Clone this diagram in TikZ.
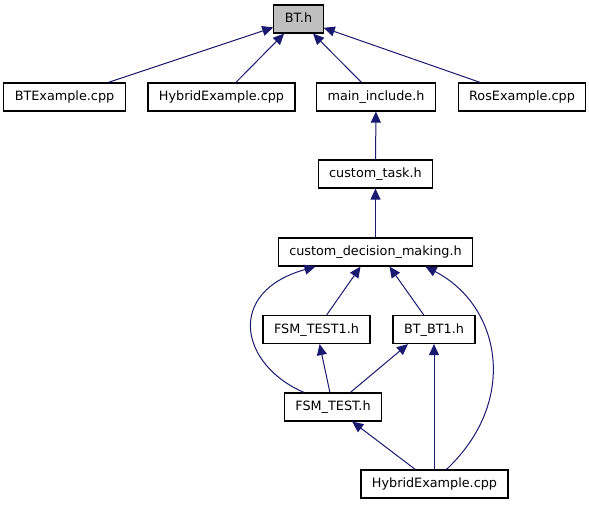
\documentclass[tikz,border=0pt]{standalone}
\usepackage{fontspec}
\setmainfont{DejaVu Sans}
\usepackage{xcolor}
\usetikzlibrary{arrows.meta}
\definecolor{edgeblue}{HTML}{191970}
\definecolor{rootgray}{HTML}{BFBFBF}

\begin{document}
\begin{tikzpicture}[x=1pt, y=-1pt,
  file/.style={draw=black, line width=1.2pt, fill=white, minimum height=28pt,
    inner xsep=11pt, inner ysep=0pt, text height=9.6pt, text depth=2.6pt,
    font=\fontsize{12.8}{14}\selectfont},
  dep/.style={edgeblue, line width=1pt, -{Triangle[length=11pt,width=10pt]}}]
  \useasboundingbox (0,0) rectangle (589,504);

  \node[file, fill=rootgray] (bt) at (298.5,19) {BT.h};
  \node[file] (btex) at (64.5,97) {BTExample.cpp};
  \node[file] (hybtop) at (221.5,97) {HybridExample.cpp};
  \node[file] (maininc) at (376,97) {main\_include.h};
  \node[file] (rosex) at (522,97) {RosExample.cpp};
  \node[file] (task) at (375.5,174) {custom\_task.h};
  \node[file] (cdm) at (375.5,252) {custom\_decision\_making.h};
  \node[file] (fsmone) at (316.5,329.5) {FSM\_TEST1.h};
  \node[file] (btbt) at (434,329.5) {BT\_BT1.h};
  \node[file] (fsm) at (333,407) {FSM\_TEST.h};
  \node[file] (hybbot) at (434.5,484) {HybridExample.cpp};

  \draw[dep] (btex) -- (bt);
  \draw[dep] (hybtop) -- (bt);
  \draw[dep] (maininc) -- (bt);
  \draw[dep] (rosex) -- (bt);
  \draw[dep] (task) -- (maininc);
  \draw[dep] (cdm) -- (task);
  \draw[dep] (fsmone) -- ([xshift=-15pt]cdm.south);
  \draw[dep] (btbt) -- ([xshift=14pt]cdm.south);
  \draw[dep] (fsm) -- (fsmone);
  \draw[dep] (fsm) -- ([xshift=-26pt]btbt.south);
  \draw[dep] (hybbot) -- (fsm);
  \draw[dep] (hybbot.north -| btbt.south) -- (btbt.south);
  % curved links
  \draw[dep] ([xshift=-29pt]fsm.north) .. controls (240,365) and (225,292) .. ([xshift=-60pt]cdm.south);
  \draw[dep] ([xshift=12pt]hybbot.north) .. controls (520,400) and (500,305) .. ([xshift=50pt]cdm.south);
\end{tikzpicture}
\end{document}
